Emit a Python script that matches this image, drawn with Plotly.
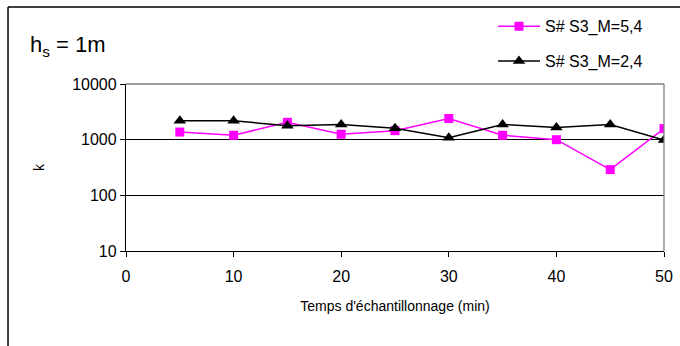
import plotly.graph_objects as go

time_min = [5, 10, 15, 20, 25, 30, 35, 40, 45, 50]
k_m54 = [1370, 1200, 2050, 1250, 1450, 2400, 1200, 1000, 290, 1580]
k_m24 = [2180, 2180, 1780, 1880, 1600, 1080, 1880, 1650, 1880, 990]
name_m54 = "S# S3_M=5,4"
name_m24 = "S# S3_M=2,4"
x_ticks = [0, 10, 20, 30, 40, 50]
y_ticks = [10, 100, 1000, 10000]

FONT = "Liberation Sans, Arial, sans-serif"

fig = go.Figure()
fig.add_trace(go.Scatter(
    x=time_min, y=k_m54, name=name_m54, mode="lines+markers",
    line=dict(color="#FF00FF", width=1.5),
    marker=dict(symbol="square", size=9, color="#FF00FF"),
    legendgroup="a",
))
fig.add_trace(go.Scatter(
    x=time_min, y=k_m24, name=name_m24, mode="lines+markers",
    line=dict(color="#000000", width=1.5),
    marker=dict(symbol="triangle-up", size=11, color="#000000"),
    legendgroup="b",
))

fig.update_layout(
    width=680, height=346,
    margin=dict(l=126, r=16, t=84, b=95, autoexpand=False),
    paper_bgcolor="white", plot_bgcolor="white",
    font=dict(family=FONT, size=16, color="black"),
    showlegend=True,
    legend=dict(
        xref="container", yref="container",
        x=0.725, y=0.973, xanchor="left", yanchor="top",
        bgcolor="rgba(0,0,0,0)", font=dict(size=16),
        tracegroupgap=11, traceorder="grouped", itemwidth=42,
    ),
    xaxis=dict(
        range=[0, 50], tickvals=x_ticks, ticks="outside", ticklen=5,
        tickcolor="black", showline=True, linecolor="black", linewidth=1.3,
        showgrid=False, zeroline=False, ticklabelstandoff=6,
        title=dict(text="Temps d'échantillonnage (min)", font=dict(size=14), standoff=16),
    ),
    yaxis=dict(
        type="log", range=[1, 4], tickvals=y_ticks, ticktext=[str(v) for v in y_ticks],
        ticks="outside", ticklen=5, tickcolor="black",
        showline=True, linecolor="black", linewidth=1.3,
        showgrid=True, gridcolor="black", gridwidth=1, zeroline=False,
        title=dict(text="k", font=dict(size=14), standoff=24),
    ),
    annotations=[dict(
        text="h<sub>s</sub> = 1m", xref="paper", yref="paper",
        x=-0.183, y=1.23, xanchor="left", yanchor="middle",
        showarrow=False, font=dict(size=22, family=FONT),
    )],
    shapes=[
        # outer chart frame (left and top)
        dict(type="line", xref="paper", yref="paper", x0=-0.2193, x1=-0.2193,
             y0=1.461, y1=-0.6, line=dict(color="black", width=1.5)),
        dict(type="line", xref="paper", yref="paper", x0=-0.2193, x1=1.05,
             y0=1.461, y1=1.461, line=dict(color="black", width=1.5)),
        # plot area frame top/right in gray
        dict(type="line", xref="paper", yref="paper", x0=0, x1=1, y0=1, y1=1,
             line=dict(color="#808080", width=1.3)),
        dict(type="line", xref="paper", yref="paper", x0=1, x1=1, y0=0, y1=1,
             line=dict(color="#808080", width=1.3)),
    ],
)

fig.write_html("out.html")
